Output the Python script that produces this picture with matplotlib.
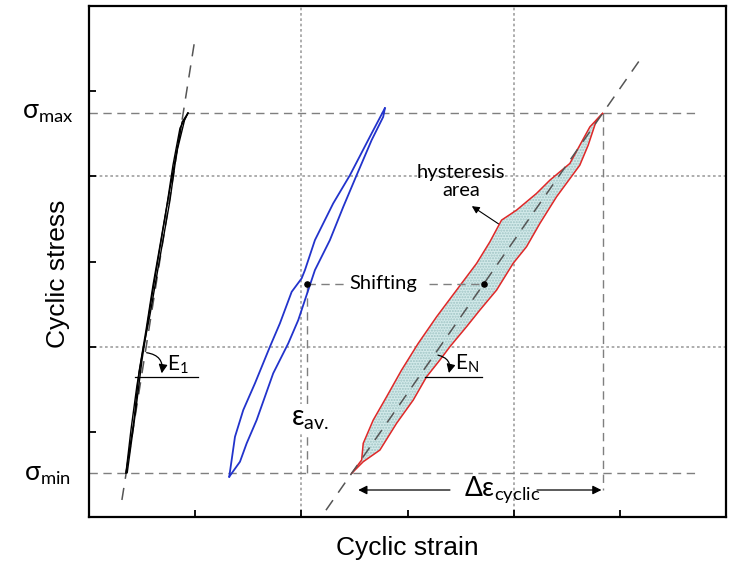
#!/usr/bin/env python3
"""
Schematic of cyclic stress-strain loops: first cycle (E1), a shifted
intermediate loop, and the N-th loop with its hysteresis area (EN).
"""
import matplotlib
matplotlib.use("Agg")
import matplotlib.pyplot as plt
from matplotlib.patches import FancyArrowPatch


# Stress levels and helper grid (schematic units, axes run 0..6)
SIGMA_MAX = 4.74
SIGMA_MIN = 0.52
TICKS = [1, 2, 3, 4, 5]
GRID_X = [2, 4]
GRID_Y = [2, 4]

# First cycle (black): loading, unloading and reloading branches
black_load_x = [0.348, 0.424, 0.471, 0.537, 0.603, 0.669, 0.734, 0.791, 0.857, 0.932]
black_load_y = [0.516, 1.138, 1.702, 2.195, 2.723, 3.192, 3.662, 4.131, 4.566, 4.742]
black_unload_x = [0.932, 0.876, 0.829, 0.763, 0.697, 0.631, 0.574, 0.508, 0.452, 0.395, 0.348]
black_unload_y = [4.742, 4.636, 4.308, 3.721, 3.251, 2.782, 2.371, 1.960, 1.549, 1.021, 0.516]
black_reload_x = [0.360, 0.440, 0.500, 0.580, 0.660, 0.740, 0.820, 0.900, 0.932]
black_reload_y = [0.520, 1.250, 1.850, 2.500, 3.100, 3.700, 4.250, 4.660, 4.742]
black_slope_x = [0.31, 1.00]
black_slope_y = [0.20, 5.63]

# Intermediate (shifted) loop, blue
blue_left_x = [1.321, 1.375, 1.453, 1.563, 1.704, 1.798, 1.909, 2.003, 2.034,
               2.128, 2.300, 2.458, 2.662, 2.787]
blue_left_y = [0.473, 0.942, 1.256, 1.569, 1.999, 2.273, 2.644, 2.802, 2.899,
               3.251, 3.682, 4.014, 4.504, 4.800]
blue_right_x = [1.321, 1.422, 1.485, 1.579, 1.735, 1.877, 1.971, 2.065, 2.128,
                2.269, 2.395, 2.521, 2.662, 2.771, 2.787]
blue_right_y = [0.473, 0.649, 0.865, 1.138, 1.687, 2.039, 2.312, 2.664, 2.899,
                3.251, 3.642, 4.014, 4.425, 4.698, 4.800]

# N-th loop, red outline with shaded hysteresis area
red_upper_x = [2.474, 2.568, 2.583, 2.677, 2.803, 2.944, 3.101, 3.274, 3.462,
               3.651, 3.776, 3.886, 4.027, 4.215, 4.341, 4.529, 4.718, 4.837]
red_upper_y = [0.513, 0.669, 0.865, 1.138, 1.412, 1.725, 2.039, 2.351, 2.664,
               2.978, 3.231, 3.486, 3.603, 3.799, 3.955, 4.151, 4.581, 4.738]
red_lower_x = [2.474, 2.583, 2.740, 2.897, 3.054, 3.180, 3.305, 3.399, 3.556,
               3.682, 3.839, 3.995, 4.121, 4.247, 4.404, 4.623, 4.702, 4.780, 4.837]
red_lower_y = [0.513, 0.649, 0.786, 1.100, 1.373, 1.647, 1.843, 1.999, 2.234,
               2.430, 2.664, 2.978, 3.173, 3.447, 3.760, 4.131, 4.366, 4.660, 4.738]
red_slope_x = [2.232, 5.224]
red_slope_y = [0.08, 5.43]

# Loop centres (mean strain) and the cyclic strain range
centre_x = [2.05, 3.72]
centre_y = [2.74, 2.74]
eps_cyclic_y = 0.317

GREY_DASH = dict(color="#7f7f7f", lw=1.0, ls=(0, (6, 4)))
DOTTED = dict(color="#a0a0a0", lw=1.2, ls=(0, (1.6, 1.6)))
TXT = ["Lato", "DejaVu Sans"]
LBL = ["Liberation Sans", "DejaVu Sans"]


def curved_arrow(ax, start, end):
    ax.add_patch(FancyArrowPatch(start, end, connectionstyle="arc3,rad=-0.5",
                                 arrowstyle="-|>", mutation_scale=13,
                                 color="black", lw=0.9, shrinkA=0, shrinkB=0,
                                 zorder=6))


def main():
    fig = plt.figure(figsize=(7.4, 5.65), dpi=100)
    ax = fig.add_axes([89 / 740, 48 / 565, 637 / 740, 511 / 565])
    ax.set_xlim(0, 6)
    ax.set_ylim(0, 6)

    # Dotted helper grid
    for gx in GRID_X:
        ax.axvline(gx, zorder=1, **DOTTED)
    for gy in GRID_Y:
        ax.axhline(gy, zorder=1, **DOTTED)

    # sigma_max / sigma_min reference lines
    x_end = 5.73
    ax.plot([0, x_end], [SIGMA_MAX, SIGMA_MAX], zorder=2, **GREY_DASH)
    ax.plot([0, x_end], [SIGMA_MIN, SIGMA_MIN], zorder=2, **GREY_DASH)

    # First cycle
    ax.plot(black_slope_x, black_slope_y, color="#555555", lw=1.1,
            ls=(0, (8, 6)), zorder=3)
    for xs, ys in ((black_load_x, black_load_y),
                   (black_unload_x, black_unload_y),
                   (black_reload_x, black_reload_y)):
        ax.plot(xs, ys, color="black", lw=1.0, zorder=4)

    # Shifted loop
    ax.plot(blue_left_x, blue_left_y, color="#2233cc", lw=1.3, zorder=4)
    ax.plot(blue_right_x, blue_right_y, color="#2233cc", lw=1.3, zorder=4)

    # N-th loop: shaded area, red outline, dashed secant
    poly_x = red_upper_x + red_lower_x[::-1]
    poly_y = red_upper_y + red_lower_y[::-1]
    ax.fill(poly_x, poly_y, facecolor="#d3eaea", edgecolor="none", zorder=3)
    ax.fill(poly_x, poly_y, facecolor="none", edgecolor="#9fc4c4",
            hatch="......", lw=0, zorder=3)
    ax.plot(red_upper_x, red_upper_y, color="#e02828", lw=1.1, zorder=4)
    ax.plot(red_lower_x, red_lower_y, color="#e02828", lw=1.1, zorder=4)
    ax.plot(red_slope_x, red_slope_y, color="#555555", lw=1.1,
            ls=(0, (8, 6)), zorder=4)

    # Shifting of the mean strain
    ax.plot([centre_x[0], 2.41], centre_y, zorder=2, **GREY_DASH)
    ax.plot([3.20, centre_x[1]], centre_y, zorder=5, **GREY_DASH)
    ax.scatter(centre_x, centre_y, s=14, color="black", zorder=7)
    ax.text(2.773, centre_y[0], "Shifting", ha="center", va="center",
            fontsize=14.5, family=TXT)

    # Mean strain marker
    ax.plot([centre_x[0], centre_x[0]], [centre_y[0], SIGMA_MIN], zorder=2,
            **GREY_DASH)
    ax.text(1.90, 1.08, "ε$_\\mathregular{av.}$", ha="left", va="baseline",
            fontsize=20, family=TXT, zorder=6,
            bbox=dict(facecolor="white", edgecolor="none", pad=1.5))

    # Cyclic strain range
    ax.plot([red_upper_x[-1], red_upper_x[-1]], [SIGMA_MAX, eps_cyclic_y],
            zorder=2, **GREY_DASH)
    arr = dict(arrowstyle="-|>", color="black", lw=0.9, mutation_scale=13,
               shrinkA=0, shrinkB=0)
    ax.annotate("", xy=(2.536, eps_cyclic_y), xytext=(3.40, eps_cyclic_y),
                arrowprops=arr)
    ax.annotate("", xy=(4.827, eps_cyclic_y), xytext=(4.22, eps_cyclic_y),
                arrowprops=arr)
    ax.text(3.894, 0.258, "Δε$_\\mathregular{cyclic}$", ha="center",
            va="baseline", fontsize=19, family=TXT)

    # Moduli
    ax.plot([0.433, 1.026], [1.647, 1.647], color="black", lw=0.9, zorder=5)
    curved_arrow(ax, (0.543, 1.929), (0.685, 1.687))
    ax.text(0.734, 1.725, "E$_\\mathregular{1}$", ha="left", va="baseline",
            fontsize=15, family=TXT)
    ax.plot([3.164, 3.698], [1.647, 1.647], color="black", lw=0.9, zorder=5)
    curved_arrow(ax, (3.286, 1.901), (3.390, 1.690))
    ax.text(3.446, 1.737, "E$_\\mathregular{N}$", ha="left", va="baseline",
            fontsize=15, family=TXT)

    # Hysteresis area label
    ax.text(3.503, 3.94, "hysteresis\narea", ha="center", va="center",
            fontsize=14.5, family=TXT, linespacing=1.05)
    ax.annotate("", xy=(3.606, 3.650), xytext=(3.861, 3.439),
                arrowprops=dict(arrowstyle="-|>", color="black", lw=0.8,
                                mutation_scale=11, shrinkA=0, shrinkB=0))

    # Stress level labels
    ax.text(-0.025, 4.68, "σ$_\\mathregular{max}$", transform=ax.get_yaxis_transform(),
            ha="right", va="baseline", fontsize=19, family=TXT)
    ax.text(-0.028, 0.434, "σ$_\\mathregular{min}$", transform=ax.get_yaxis_transform(),
            ha="right", va="baseline", fontsize=19, family=TXT)

    # Axes cosmetics
    ax.set_xticks(TICKS)
    ax.set_yticks(TICKS)
    ax.set_xticklabels([])
    ax.set_yticklabels([])
    ax.tick_params(direction="in", length=5, width=1.3)
    for sp in ax.spines.values():
        sp.set_linewidth(1.6)
    ax.set_xlabel("Cyclic strain", fontsize=19, family=LBL)
    ax.set_ylabel("Cyclic stress", fontsize=19, family=LBL)
    ax.xaxis.set_label_coords(0.5, -0.037)
    ax.yaxis.set_label_coords(-0.030, 0.476)

    fig.savefig("out.png", dpi=100)


if __name__ == "__main__":
    main()
